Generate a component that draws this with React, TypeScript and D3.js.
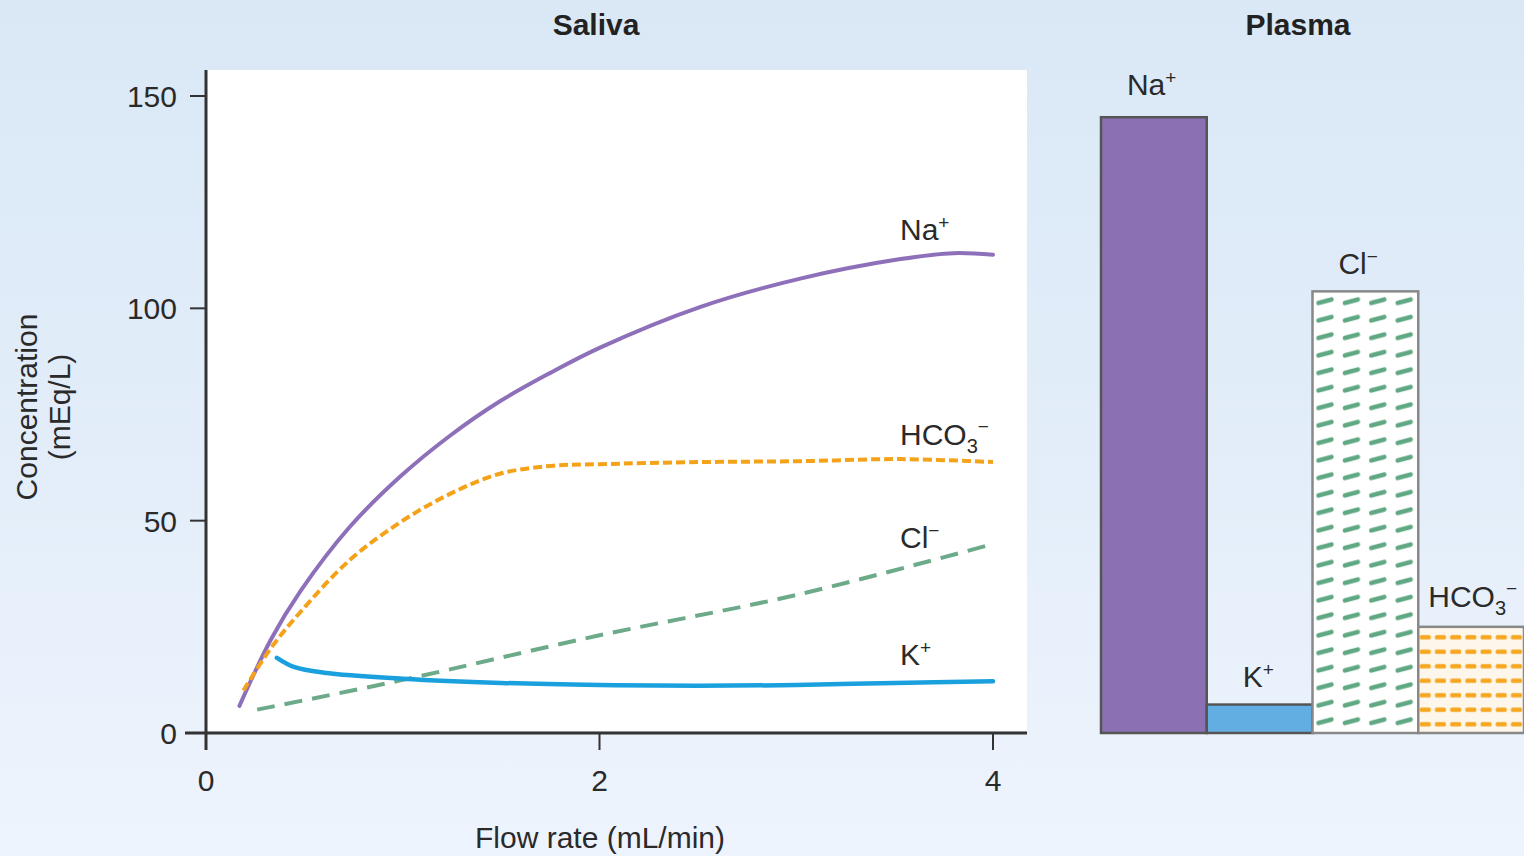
import React, { useEffect } from "react";
import * as d3 from "d3";

const naX = [0.17, 0.33, 0.48, 0.73, 0.99, 1.24, 1.49, 1.75, 2.0, 2.51, 3.02, 3.53, 3.8, 4.0];
const naY = [6.4, 22, 33.4, 48.5, 60.5, 70, 78, 84.8, 90.7, 100.3, 107, 111.6, 113, 112.6];
const hcoX = [0.19, 0.33, 0.48, 0.73, 0.99, 1.24, 1.49, 1.75, 2.0, 2.51, 3.02, 3.53, 4.0];
const hcoY = [10, 20, 28.5, 40.7, 49.7, 56.3, 61, 62.9, 63.3, 63.8, 64, 64.5, 63.8];
const kX = [0.36, 0.45, 0.6, 1.0, 1.5, 2.0, 2.5, 3.0, 3.5, 4.0];
const kY = [17.7, 15.5, 14.2, 12.8, 11.8, 11.3, 11.1, 11.3, 11.8, 12.2];
const clX = [0.26, 1.0, 2.0, 3.0, 4.0];
const clY = [5.5, 12.5, 23, 32.5, 44.5];

const xTicks = [0, 2, 4];
const yTicks = [0, 50, 100, 150];

const plasmaIons = ["Na", "K", "Cl", "HCO3"];
const plasmaValues = [145, 6.7, 104, 25];

const FONT = "'Liberation Sans', Arial, Helvetica, sans-serif";
const FS = 30;

function zip(xs: number[], ys: number[]): [number, number][] {
  return xs.map((x, i) => [x, ys[i]]);
}

function IonLabel({ ion, x, y }: { ion: string; x: number; y: number }) {
  const common = { x, y, fontFamily: FONT, fontSize: FS, fill: "#2a2a2a" };
  if (ion === "Na")
    return (
      <text {...common}>
        Na<tspan fontSize={19} dy={-11}>+</tspan>
      </text>
    );
  if (ion === "K")
    return (
      <text {...common}>
        K<tspan fontSize={19} dy={-11}>+</tspan>
      </text>
    );
  if (ion === "Cl")
    return (
      <text {...common}>
        Cl<tspan fontSize={19} dy={-11}>−</tspan>
      </text>
    );
  return (
    <text {...common}>
      HCO<tspan fontSize={20} dy={8}>3</tspan>
      <tspan fontSize={19} dy={-20}>−</tspan>
    </text>
  );
}

export default function App() {
  useEffect(() => {
    document.body.style.margin = "0";
  }, []);

  const W = 1524;
  const H = 856;
  const x = d3.scaleLinear().domain([0, 4]).range([206, 993]);
  const y = d3.scaleLinear().domain([0, 150]).range([733, 96]);

  const line = d3
    .line<[number, number]>()
    .x((d) => x(d[0]))
    .y((d) => y(d[1]))
    .curve(d3.curveCatmullRom.alpha(0.5));

  const band = d3.scaleBand<string>().domain(plasmaIons).range([1101, 1524]).paddingInner(0);

  const baseY = y(0);

  const fills: Record<string, string> = {
    Na: "#8b70b3",
    K: "#62aee2",
    Cl: "url(#clPat)",
    HCO3: "url(#hcoPat)",
  };

  const labelOffsets: Record<string, number> = { Na: -22, K: -18, Cl: -17, HCO3: -20 };

  return (
    <svg width={W} height={H} style={{ position: "absolute", left: 0, top: 0, display: "block" }}>
      <defs>
        <linearGradient id="bg" x1="0" y1="0" x2="0" y2="1">
          <stop offset="0" stopColor="#dae8f6" />
          <stop offset="0.5" stopColor="#e2edf9" />
          <stop offset="1" stopColor="#eef4fd" />
        </linearGradient>
        <pattern id="clPat" patternUnits="userSpaceOnUse" width={26.4} height={17.5} x={band("Cl")} y={292}>
          <rect width={26.4} height={17.5} fill="#ffffff" />
          <line x1={6} y1={11} x2={19} y2={7.5} stroke="#5fa883" strokeWidth={4.5} strokeLinecap="round" />
        </pattern>
        <pattern id="hcoPat" patternUnits="userSpaceOnUse" width={15.2} height={14.5} x={band("HCO3")} y={630}>
          <rect width={15.2} height={14.5} fill="#fdf6ea" />
          <rect x={1.5} y={5} width={11} height={4.5} rx={1.5} fill="#f7a620" />
        </pattern>
      </defs>
      <rect width={W} height={H} fill="url(#bg)" />

      {/* Saliva panel */}
      <rect x={207} y={70} width={820} height={661} fill="#ffffff" />
      <text x={596} y={35} textAnchor="middle" fontFamily={FONT} fontWeight="bold" fontSize={FS} fill="#222">
        Saliva
      </text>

      {/* curves */}
      <path d={line(zip(clX, clY)) || ""} fill="none" stroke="#6caa8a" strokeWidth={4} strokeDasharray="18 10" />
      <path d={line(zip(naX, naY)) || ""} fill="none" stroke="#8e70ba" strokeWidth={4} strokeLinecap="round" />
      <path d={line(zip(hcoX, hcoY)) || ""} fill="none" stroke="#f5a21b" strokeWidth={4} strokeDasharray="9 4" />
      <path d={line(zip(kX, kY)) || ""} fill="none" stroke="#1aa0dc" strokeWidth={4.5} strokeLinecap="round" />

      <IonLabel ion="Na" x={900} y={240} />
      <IonLabel ion="HCO3" x={900} y={445} />
      <IonLabel ion="Cl" x={900} y={548} />
      <IonLabel ion="K" x={900} y={665} />

      {/* axes */}
      <line x1={206} x2={206} y1={70} y2={750} stroke="#333" strokeWidth={3} />
      <line x1={185} x2={1027} y1={baseY} y2={baseY} stroke="#333" strokeWidth={3} />
      {yTicks.map((t) => (
        <g key={"y" + t}>
          <line x1={190} x2={206} y1={y(t)} y2={y(t)} stroke="#333" strokeWidth={2} />
          <text x={177} y={y(t) + 11} textAnchor="end" fontFamily={FONT} fontSize={FS} fill="#2a2a2a">
            {t}
          </text>
        </g>
      ))}
      {xTicks.map((t) => (
        <g key={"x" + t}>
          <line x1={x(t)} x2={x(t)} y1={baseY} y2={750} stroke="#333" strokeWidth={2} />
          <text x={x(t)} y={791} textAnchor="middle" fontFamily={FONT} fontSize={FS} fill="#2a2a2a">
            {t}
          </text>
        </g>
      ))}
      <text x={600} y={848} textAnchor="middle" fontFamily={FONT} fontSize={FS} fill="#2a2a2a">
        Flow rate (mL/min)
      </text>
      <g transform="translate(37,407) rotate(-90)">
        <text x={0} y={0} textAnchor="middle" fontFamily={FONT} fontSize={FS} fill="#2a2a2a">
          Concentration
        </text>
        <text x={0} y={33} textAnchor="middle" fontFamily={FONT} fontSize={FS} fill="#2a2a2a">
          (mEq/L)
        </text>
      </g>

      {/* Plasma panel */}
      <text x={1298} y={35} textAnchor="middle" fontFamily={FONT} fontWeight="bold" fontSize={FS} fill="#222">
        Plasma
      </text>
      {plasmaIons.map((ion, i) => {
        const bx = band(ion) as number;
        const bw = band.bandwidth();
        const top = y(plasmaValues[i]);
        return (
          <g key={ion}>
            <rect
              x={bx}
              y={top}
              width={bw}
              height={baseY - top}
              fill={fills[ion]}
              stroke={ion === "Cl" || ion === "HCO3" ? "#888" : "#555"}
              strokeWidth={2.5}
            />
          </g>
        );
      })}
      {plasmaIons.map((ion, i) => {
        const bx = band(ion) as number;
        const bw = band.bandwidth();
        const top = y(plasmaValues[i]);
        const lx = ion === "HCO3" ? bx + 10 : bx + bw / 2 - (ion === "K" ? 17 : 27);
        return <IonLabel key={"l" + ion} ion={ion} x={lx} y={top + labelOffsets[ion]} />;
      })}
    </svg>
  );
}
